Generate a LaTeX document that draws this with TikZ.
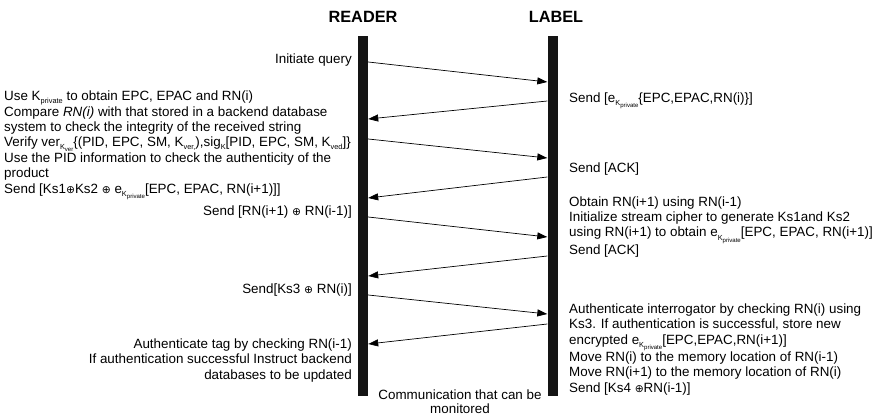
\documentclass[tikz,border=0pt]{standalone}
\usepackage{fontspec}
\setmainfont{Liberation Sans}
\newfontfamily\symfont{DejaVu Sans}
\usetikzlibrary{arrows.meta}

\newcommand{\lowsub}[1]{\raisebox{-0.45ex}{\scalebox{0.55}{#1}}}
\newcommand{\lowsubsub}[1]{\raisebox{-0.5ex}{\scalebox{0.82}{#1}}}
\newcommand{\xorsym}{{\symfont\scalebox{0.8}{⊕}}}

\begin{document}
\begin{tikzpicture}[x=1pt, y=-1pt,
    lifeline/.style={fill=black!92, minimum width=10pt, minimum height=360pt, inner sep=0pt},
    msgarrow/.style={-{Triangle[length=10pt, width=7pt]}, line width=0.7pt},
    headtext/.style={font=\fontsize{16.3}{19}\selectfont\bfseries},
    readertext/.style={anchor=base east, align=right, inner sep=0pt},
    labeltext/.style={anchor=base west, align=left, inner sep=0pt},
    every node/.append style={font=\fontsize{13.4}{15.4}\selectfont}
  ]
    \useasboundingbox (0,0) rectangle (885,415);
    % lifelines
    \node[headtext] (readerhead) at (363,17) {READER};
    \node[headtext] (labelhead) at (556,17) {LABEL};
    \node[lifeline] (reader) at (363,216) {};
    \node[lifeline] (label) at (552.5,216) {};
    % messages
    \draw[msgarrow] (reader.east |- 0,62) -- (label.west |- 0,82);
    \draw[msgarrow] (label.west |- 0,101) -- (reader.east |- 0,119);
    \draw[msgarrow] (reader.east |- 0,139) -- (label.west |- 0,158);
    \draw[msgarrow] (label.west |- 0,177) -- (reader.east |- 0,198);
    \draw[msgarrow] (reader.east |- 0,217) -- (label.west |- 0,237);
    \draw[msgarrow] (label.west |- 0,256) -- (reader.east |- 0,276);
    \draw[msgarrow] (reader.east |- 0,295) -- (label.west |- 0,314);
    \draw[msgarrow] (label.west |- 0,324) -- (reader.east |- 0,344);
    % reader side (base = last line)
    \node[readertext] (query) at (352,63) {Initiate query};
    \node[labeltext] (verify) at (4,193) {Use K\lowsub{private} to obtain EPC, EPAC and RN(i)\\
      Compare \textit{RN(i)} with that stored in a backend database\\
      system to check the integrity of the received string\\
      Verify ver\lowsub{K\lowsubsub{ver}}\{(PID, EPC, SM, K\lowsub{ver,}),sig\lowsub{K}[PID, EPC, SM, K\lowsub{ved}]\}\\
      Use the PID information to check the authenticity of the\\
      product\\
      Send [Ks1\xorsym Ks2 \xorsym{} e\lowsub{K\lowsubsub{private}}[EPC, EPAC, RN(i+1)]]};
    \node[readertext] (sendrn) at (352,215) {Send [RN(i+1) \xorsym{} RN(i-1)]};
    \node[readertext] (sendks) at (352,293) {Send[Ks3 \xorsym{} RN(i)]};
    \node[readertext] (tagauth) at (352,379) {Authenticate tag by checking RN(i-1)\\
      If authentication successful Instruct backend\\
      databases to be updated};
    % label side
    \node[labeltext] (sendenc) at (569,102) {Send [e\lowsub{K\lowsubsub{private}}\{EPC,EPAC,RN(i)\}]};
    \node[labeltext] (ack) at (569,172) {Send [ACK]};
    \node[labeltext] (cipher) at (569,254) {Obtain RN(i+1) using RN(i-1)\\
      Initialize stream cipher to generate Ks1and Ks2\\
      using RN(i+1) to obtain e\lowsub{K\lowsubsub{private}}[EPC, EPAC, RN(i+1)]\\
      Send [ACK]};
    \node[labeltext] (interrog) at (569,392) {Authenticate interrogator by checking RN(i) using\\
      Ks3. If authentication is successful, store new\\
      encrypted e\lowsub{K\lowsubsub{private}}[EPC,EPAC,RN(i+1)]\\
      Move RN(i) to the memory location of RN(i-1)\\
      Move RN(i+1) to the memory location of RN(i)\\
      Send [Ks4 \xorsym RN(i-1)]};
    \node[align=center, inner sep=0pt, font=\fontsize{13.4}{13.6}\selectfont] (monitor) at (460,402) {Communication that can be\\ monitored};
\end{tikzpicture}
\end{document}
